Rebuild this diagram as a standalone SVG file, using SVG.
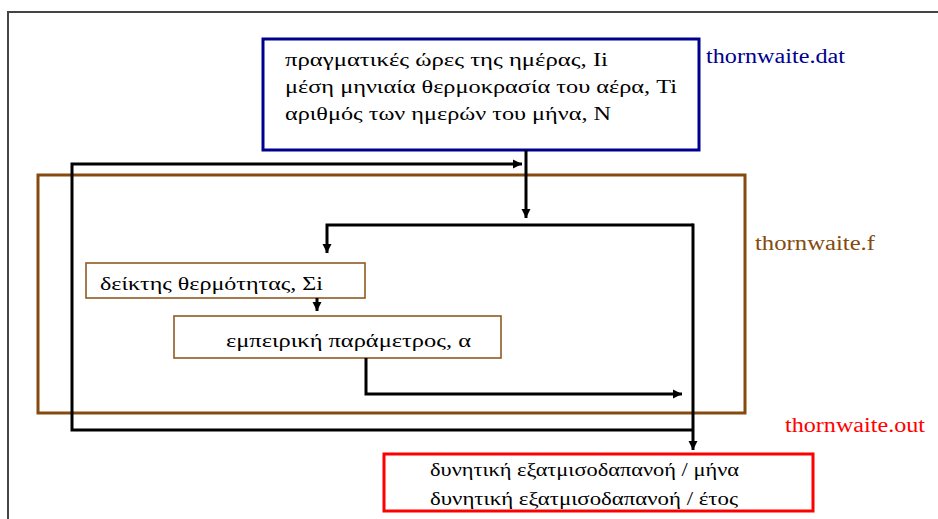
<svg xmlns="http://www.w3.org/2000/svg" width="938" height="519" viewBox="0 0 938 519">
<defs>
<style>
.t{font-family:"Liberation Serif","Times New Roman",serif;font-size:19px;fill:#000}
.lbl{font-family:"Liberation Serif","Times New Roman",serif;font-size:20px}
.con{fill:none;stroke:#000;stroke-width:3}
.small{fill:#fff;stroke:#8f5a22;stroke-width:1.6}
</style>
<marker id="ah" viewBox="0 0 10 10" refX="10" refY="5" markerWidth="9" markerHeight="11" markerUnits="userSpaceOnUse" orient="auto">
<path d="M0,0 L10,5 L0,10 Z" fill="#000"/>
</marker>
</defs>
<rect width="938" height="519" fill="#fff"/>
<rect x="8" y="12" width="960" height="560" fill="none" stroke="#444" stroke-width="2"/>

<g id="thornwaite-f">
<rect x="38" y="175" width="707" height="238" fill="none" stroke="#854a0e" stroke-width="3"/>
<text class="lbl" x="755" y="250" fill="#854a0e" textLength="120" lengthAdjust="spacingAndGlyphs">thornwaite.f</text>
</g>

<g id="input">
<rect x="263" y="39" width="436" height="111" fill="#fff" stroke="#000090" stroke-width="3"/>
<text class="t" x="285" y="66" textLength="323" lengthAdjust="spacingAndGlyphs">πραγματικές ώρες  της ημέρας,  Ii</text>
<text class="t" x="285" y="93" textLength="392" lengthAdjust="spacingAndGlyphs">μέση μηνιαία θερμοκρασία του αέρα,  Ti</text>
<text class="t" x="285" y="120" textLength="326" lengthAdjust="spacingAndGlyphs">αριθμός των ημερών του μήνα, Ν</text>
<text class="lbl" x="706" y="63" fill="#000090" textLength="139" lengthAdjust="spacingAndGlyphs">thornwaite.dat</text>
</g>

<g id="heat-index">
<rect x="86" y="263" width="279" height="35" class="small"/>
<text class="t" x="100" y="290" textLength="223" lengthAdjust="spacingAndGlyphs">δείκτης θερμότητας, Σi</text>
</g>

<g id="param">
<rect x="174" y="316" width="327" height="42" class="small"/>
<text class="t" x="226" y="347" textLength="245" lengthAdjust="spacingAndGlyphs">εμπειρική  παράμετρος, α</text>
</g>

<g id="output">
<rect x="384" y="454" width="429" height="57" fill="#fff" stroke="#ff0000" stroke-width="3"/>
<text class="t" x="430" y="476" textLength="309" lengthAdjust="spacingAndGlyphs">δυνητική εξατμισοδαπανοή / μήνα</text>
<text class="t" x="430" y="505" textLength="308" lengthAdjust="spacingAndGlyphs">δυνητική εξατμισοδαπανοή  / έτος</text>
<text class="lbl" x="785" y="432" fill="#ff0000" textLength="140" lengthAdjust="spacingAndGlyphs">thornwaite.out</text>
</g>

<g id="connectors">
<path class="con" d="M693,430 H72 V164 H522" marker-end="url(#ah)"/>
<path class="con" d="M526,150 V218" marker-end="url(#ah)"/>
<path class="con" d="M693,225 H327 V253" marker-end="url(#ah)"/>
<path class="con" d="M693,223.5 V450" marker-end="url(#ah)"/>
<path class="con" d="M317,298 V311" marker-end="url(#ah)"/>
<path class="con" d="M366,358 V394 H682" marker-end="url(#ah)"/>
</g>
</svg>
